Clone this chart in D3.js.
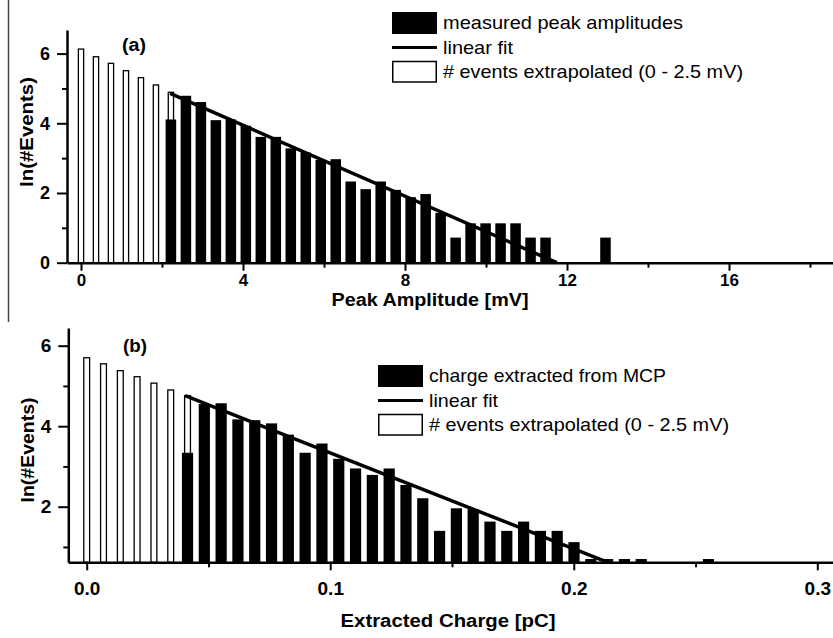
<!DOCTYPE html>
<html>
<head>
<meta charset="utf-8">
<script src="https://cdn.jsdelivr.net/npm/d3@7"></script>
<style>
body { margin: 0; background: #fff; }
svg { display: block; font-family: 'Liberation Sans', Arial, sans-serif; }
</style>
</head>
<body>
<svg width="833" height="638"></svg>
<script>
// (a) peak amplitude histogram, ln(#events) per 0.37 mV bin
const extrapAmpX = [0, 0.37, 0.74, 1.11, 1.48, 1.85, 2.22]
const extrapAmpY = [6.13, 5.91, 5.72, 5.51, 5.31, 5.10, 4.89]
const measAmpX = [2.22, 2.59, 2.96, 3.33, 3.70, 4.07, 4.44, 4.81, 5.18, 5.55, 5.92, 6.29, 6.66, 7.03,
    7.40, 7.77, 8.14, 8.51, 8.88, 9.25, 9.62, 9.99, 10.36, 10.73, 11.10, 11.47, 12.95]
const measAmpY = [4.11, 4.79, 4.61, 4.09, 4.11, 3.93, 3.61, 3.61, 3.28, 3.16, 2.95, 2.97, 2.33, 2.11,
    2.33, 2.09, 1.88, 1.97, 1.43, 0.72, 1.13, 1.13, 1.13, 1.13, 0.72, 0.72, 0.72]
const fitAmpX = [2.2, 11.75]
const fitAmpY = [4.86, 0]

// (b) extracted charge histogram, 0.0069 pC bins
const extrapChgX = [0, 0.0069, 0.0138, 0.0207, 0.0276, 0.0345, 0.0414]
const extrapChgY = [5.70, 5.55, 5.38, 5.23, 5.07, 4.90, 4.76]
const measChgX = [0.0414, 0.0483, 0.0552, 0.0621, 0.069, 0.0759, 0.0828, 0.0897, 0.0966, 0.1035,
    0.1104, 0.1173, 0.1242, 0.1311, 0.138, 0.1449, 0.1518, 0.1587, 0.1656, 0.1725, 0.1794, 0.1863,
    0.1932, 0.2001, 0.207, 0.2139, 0.2208, 0.2277, 0.2553]
const measChgY = [3.34, 4.55, 4.57, 4.17, 4.15, 4.07, 3.79, 3.34, 3.57, 3.19, 2.95, 2.79, 2.95, 2.54,
    2.21, 1.40, 1.96, 1.94, 1.63, 1.40, 1.63, 1.40, 1.40, 1.12, 0.70, 0.70, 0.70, 0.70, 0.70]
const fitChgX = [0.0404, 0.2135]
const fitChgY = [4.76, 0.63]

const legendLabelsA = ['measured peak amplitudes', 'linear fit', '# events extrapolated (0 - 2.5 mV)']
const legendLabelsB = ['charge extracted from MCP', 'linear fit', '# events extrapolated (0 - 2.5 mV)']

const svg = d3.select('svg')

// stray frame line on the left of the scan
svg.append('line')
    .attr('x1', 8.5).attr('x2', 8.5).attr('y1', 0).attr('y2', 322)
    .attr('stroke', '#444').attr('stroke-width', 1.5)

const drawPanel = p => {
    // calibrate on two known ticks, then stretch to the drawn axis extent
    const xc = d3.scaleLinear().domain(p.xCal).range(p.xCalPx)
    const yc = d3.scaleLinear().domain(p.yCal).range(p.yCalPx)
    const x = d3.scaleLinear().domain(p.xPx.map(xc.invert)).range(p.xPx)
    const y = d3.scaleLinear().domain(p.yPx.map(yc.invert)).range(p.yPx)
    const base = p.yPx[0]
    const g = svg.append('g')

    g.selectAll('rect.open')
        .data(d3.zip(p.openX, p.openY))
        .join('rect')
        .attr('class', 'open')
        .attr('x', d => x(d[0] - p.openW / 2))
        .attr('width', x(p.openW) - x(0))
        .attr('y', d => y(d[1]))
        .attr('height', d => base - y(d[1]))
        .attr('fill', '#fff')
        .attr('stroke', '#000')
        .attr('stroke-width', 1.3)

    g.selectAll('rect.meas')
        .data(d3.zip(p.measX, p.measY))
        .join('rect')
        .attr('class', 'meas')
        .attr('x', d => x(d[0] - p.barW / 2))
        .attr('width', x(p.barW) - x(0))
        .attr('y', d => y(d[1]))
        .attr('height', d => base - y(d[1]))
        .attr('fill', '#000')

    g.append('path')
        .datum(d3.zip(p.fitX, p.fitY))
        .attr('d', d3.line().x(d => x(d[0])).y(d => y(d[1])))
        .attr('fill', 'none')
        .attr('stroke', '#000')
        .attr('stroke-width', 3.5)

    // x axis, major + minor
    const xAx = g.append('g')
        .attr('transform', `translate(0,${base})`)
        .call(d3.axisBottom(x).tickValues(p.xMajor).tickFormat(p.xFmt)
            .tickSize(8).tickPadding(p.xPad).tickSizeOuter(0))
    xAx.append('g').call(d3.axisBottom(x).tickValues(p.xMinor).tickFormat('').tickSize(5))
        .select('.domain').remove()
    xAx.selectAll('.tick text')
        .attr('font-size', p.xFont).attr('font-weight', 'bold')
        .attr('font-family', "'Liberation Sans', Arial, sans-serif")

    const yAx = g.append('g')
        .attr('transform', `translate(${p.xPx[0]},0)`)
        .call(d3.axisLeft(y).tickValues(p.yMajor).tickFormat(d3.format('d'))
            .tickSize(10).tickPadding(7).tickSizeOuter(0))
    yAx.append('g').call(d3.axisLeft(y).tickValues(p.yMinor).tickFormat('').tickSize(5))
        .select('.domain').remove()
    yAx.selectAll('.tick text')
        .attr('font-size', p.yFont).attr('font-weight', 'bold')
        .attr('font-family', "'Liberation Sans', Arial, sans-serif")

    g.selectAll('.domain').attr('stroke-width', 2.5)
    g.selectAll('.tick line').attr('stroke-width', 2)
    xAx.attr('color', '#000')
    yAx.attr('color', '#000')

    g.append('text')
        .attr('x', p.xTitlePos[0]).attr('y', p.xTitlePos[1])
        .attr('text-anchor', 'middle')
        .attr('font-size', 18).attr('font-weight', 'bold')
        .attr('textLength', p.xTitleLen).attr('lengthAdjust', 'spacingAndGlyphs')
        .text(p.xTitle)

    g.append('text')
        .attr('transform', `translate(${p.yTitlePos[0]},${p.yTitlePos[1]}) rotate(-90)`)
        .attr('text-anchor', 'middle')
        .attr('font-size', 18).attr('font-weight', 'bold')
        .attr('textLength', p.yTitleLen).attr('lengthAdjust', 'spacingAndGlyphs')
        .text('ln(#Events)')

    g.append('text')
        .attr('x', p.tagPos[0]).attr('y', p.tagPos[1])
        .attr('font-size', 18).attr('font-weight', 'bold')
        .attr('textLength', 24).attr('lengthAdjust', 'spacingAndGlyphs')
        .text(p.tag)

    // legend
    const lg = g.append('g').attr('transform', `translate(${p.legendPos[0]},${p.legendPos[1]})`)
    lg.append('rect').attr('x', 0).attr('y', -11).attr('width', 45).attr('height', 22).attr('fill', '#000')
    lg.append('line').attr('x1', 0).attr('x2', 45).attr('y1', 24.5).attr('y2', 24.5)
        .attr('stroke', '#000').attr('stroke-width', 3)
    lg.append('rect').attr('x', 0.75).attr('y', 38.5).attr('width', 43.5).attr('height', 20.5)
        .attr('fill', '#fff').attr('stroke', '#000').attr('stroke-width', 1.5)
    p.legendLabels.forEach((t, i) => {
        lg.append('text')
            .attr('x', 51).attr('y', i * 24.7 + 6)
            .attr('font-size', 19)
            .attr('textLength', p.legendLens[i]).attr('lengthAdjust', 'spacingAndGlyphs')
            .text(t)
    })
}

drawPanel({
    xCal: [0, 16], xCalPx: [81, 729], xPx: [67, 833],
    yCal: [0, 6], yCalPx: [262.7, 53.6], yPx: [262.7, 30],
    openX: extrapAmpX, openY: extrapAmpY, measX: measAmpX, measY: measAmpY,
    fitX: fitAmpX, fitY: fitAmpY, openW: 0.13, barW: 0.26,
    xMajor: [0, 4, 8, 12, 16], xMinor: [2, 6, 10, 14, 18], xFmt: d3.format('d'), xPad: 3, xFont: 17,
    yMajor: [0, 2, 4, 6], yMinor: [1, 3, 5], yFont: 18,
    xTitle: 'Peak Amplitude [mV]', xTitlePos: [430, 306], xTitleLen: 197,
    yTitlePos: [33, 132], yTitleLen: 110,
    tag: '(a)', tagPos: [122, 51],
    legendPos: [392, 23], legendLabels: legendLabelsA, legendLens: [240, 70, 300]
})

drawPanel({
    xCal: [0, 0.3], xCalPx: [86.7, 817.3], xPx: [68.3, 833],
    yCal: [2, 6], yCalPx: [506.7, 345.7], yPx: [562.3, 328],
    openX: extrapChgX, openY: extrapChgY, measX: measChgX, measY: measChgY,
    fitX: fitChgX, fitY: fitChgY, openW: 0.0024, barW: 0.0046,
    xMajor: [0, 0.1, 0.2, 0.3], xMinor: [0.05, 0.15, 0.25], xFmt: d3.format('.1f'), xPad: 11, xFont: 19,
    yMajor: [2, 4, 6], yMinor: [1, 3, 5], yFont: 19,
    xTitle: 'Extracted Charge  [pC]', xTitlePos: [448, 627], xTitleLen: 215,
    yTitlePos: [34, 450], yTitleLen: 105,
    tag: '(b)', tagPos: [123, 352],
    legendPos: [378, 376], legendLabels: legendLabelsB, legendLens: [237, 69, 300]
})
</script>
</body>
</html>
